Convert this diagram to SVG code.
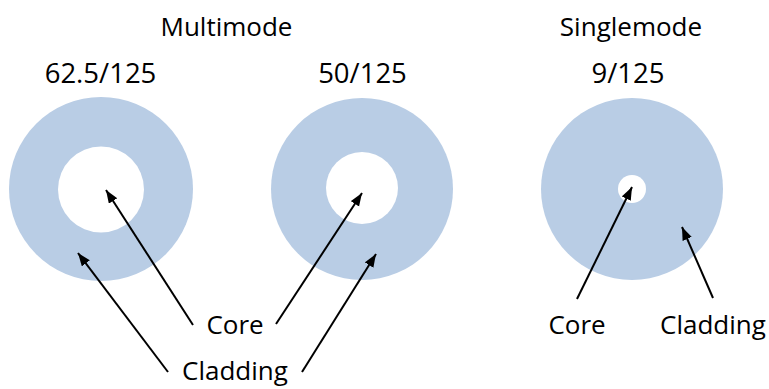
<svg xmlns="http://www.w3.org/2000/svg" width="769" height="389" viewBox="0 0 769 389">
<style>
.t{font-family:"Open Sans","Liberation Sans",sans-serif;font-size:26px;fill:#000;text-anchor:middle}
.n{font-size:27.5px}
.clad{fill:#b9cde5}
.core{fill:#fff}
.ln{stroke:#000;stroke-width:2;fill:none}
</style>
<defs>
<marker id="ah" markerUnits="userSpaceOnUse" markerWidth="14" markerHeight="11" refX="13" refY="5" orient="auto">
<path d="M0,0 L13,5 L0,10 z" fill="#000"/>
</marker>
</defs>
<rect width="769" height="389" fill="#fff"/>
<g id="title-multimode"><text class="t" x="226.5" y="36">Multimode</text></g>
<g id="title-singlemode"><text class="t" x="631" y="36">Singlemode</text></g>
<g id="fiber-62"><circle class="clad" cx="101" cy="189" r="92"/><circle class="core" cx="101" cy="189.5" r="43"/><text class="t n" x="100.5" y="83">62.5/125</text></g>
<g id="fiber-50"><circle class="clad" cx="362" cy="189" r="91"/><circle class="core" cx="362" cy="188" r="36"/><text class="t n" x="362.5" y="83">50/125</text></g>
<g id="fiber-9"><circle class="clad" cx="632" cy="189" r="91"/><circle class="core" cx="632" cy="189" r="14"/><text class="t n" x="628" y="83">9/125</text></g>
<g id="label-core-mm"><text class="t" x="235" y="334">Core</text></g>
<g id="label-cladding-mm"><text class="t" x="235" y="380">Cladding</text></g>
<g id="label-core-sm"><text class="t" x="577" y="334">Core</text></g>
<g id="label-cladding-sm"><text class="t" x="713" y="334">Cladding</text></g>
<g id="connectors">
<line class="ln" x1="193" y1="325" x2="106" y2="190" marker-end="url(#ah)"/>
<line class="ln" x1="168" y1="372" x2="78" y2="253" marker-end="url(#ah)"/>
<line class="ln" x1="276" y1="324" x2="362" y2="193" marker-end="url(#ah)"/>
<line class="ln" x1="302" y1="372" x2="376" y2="254" marker-end="url(#ah)"/>
<line class="ln" x1="577" y1="299" x2="632" y2="187" marker-end="url(#ah)"/>
<line class="ln" x1="713" y1="298" x2="682" y2="227" marker-end="url(#ah)"/>
</g>
</svg>
